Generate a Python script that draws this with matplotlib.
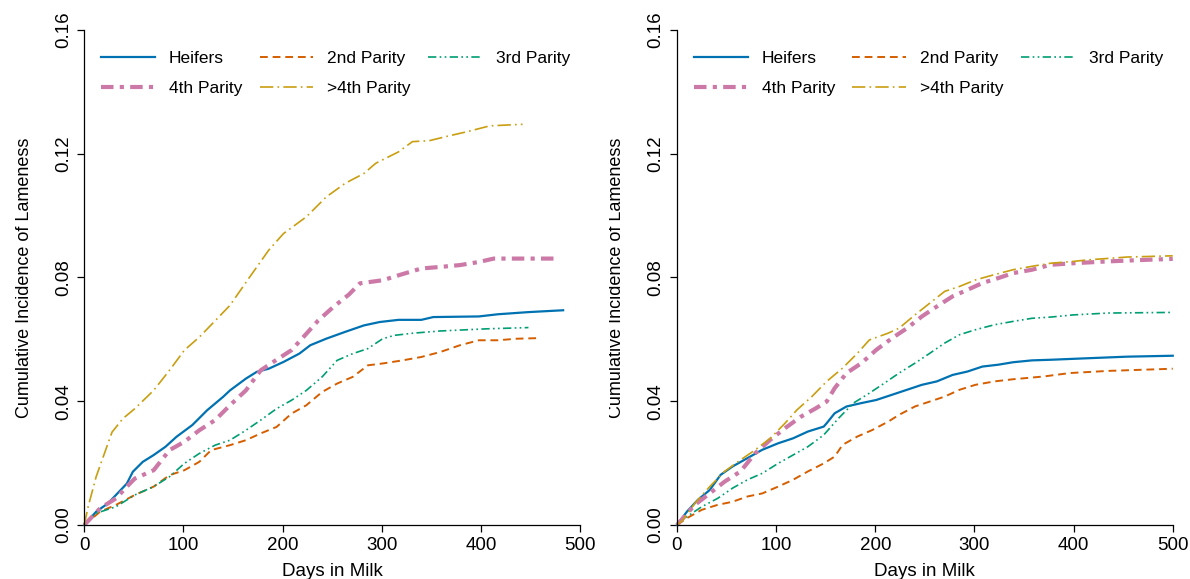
import matplotlib
matplotlib.use("Agg")
import matplotlib.pyplot as plt
from matplotlib.transforms import Bbox
from matplotlib import font_manager

# pick a condensed font if present
names = {f.name for f in font_manager.fontManager.ttflist}
fam = "Liberation Sans Narrow" if "Liberation Sans Narrow" in names else "Liberation Sans"
plt.rcParams["font.family"] = [fam, "DejaVu Sans"]

labels = ["Heifers", "2nd Parity", "3rd Parity", "4th Parity", ">4th Parity"]
colors = ["#0072B2", "#D55E00", "#009E73", "#CC79A7", "#C99E10"]
styles = ["-", (0, (4, 2.5)), (0, (5, 2, 1, 2, 1, 2)), (0, (3, 1.5, 1, 1.5)), (0, (8, 2.5, 1, 2.5))]
widths = [1.6, 1.4, 1.2, 3.0, 1.2]

# left panel
l_heif_x = [0, 12, 24, 32, 43, 49, 59, 70, 82, 93, 109, 124, 140, 147, 163, 174, 186, 201, 217, 228,
            244, 263, 282, 298, 317, 340, 352, 398, 417, 448, 483]
l_heif_y = [0, 0.0043, 0.007, 0.0097, 0.0134, 0.0172, 0.0204, 0.0226, 0.0253, 0.0285, 0.0323, 0.0371,
            0.0414, 0.0435, 0.0473, 0.0495, 0.0505, 0.0527, 0.0554, 0.0581, 0.0602, 0.0624, 0.0645,
            0.0656, 0.0663, 0.0663, 0.0672, 0.0674, 0.0681, 0.0688, 0.0694]
l_p2_x = [0, 16, 32, 51, 70, 86, 101, 116, 128, 147, 163, 178, 194, 209, 224, 240, 255, 271, 286, 301,
          321, 340, 359, 379, 398, 417, 436, 459]
l_p2_y = [0, 0.0043, 0.0065, 0.0097, 0.0124, 0.0161, 0.0177, 0.0204, 0.0242, 0.0258, 0.0274, 0.0296,
          0.0317, 0.036, 0.0387, 0.043, 0.0457, 0.0479, 0.0516, 0.0522, 0.0532, 0.0543, 0.0559, 0.0581,
          0.0597, 0.0597, 0.0602, 0.0604]
l_p3_x = [0, 12, 32, 51, 70, 86, 101, 116, 132, 147, 163, 178, 194, 209, 224, 240, 255, 271, 286, 301,
          313, 332, 359, 406, 448]
l_p3_y = [0, 0.0038, 0.0059, 0.0097, 0.0124, 0.0156, 0.0199, 0.0231, 0.0258, 0.0274, 0.0306, 0.0339,
          0.0376, 0.0403, 0.0435, 0.0479, 0.0532, 0.0554, 0.057, 0.0602, 0.0613, 0.062, 0.0627, 0.0634,
          0.0638]
l_p4_x = [0, 16, 32, 43, 51, 70, 86, 101, 116, 132, 147, 163, 178, 194, 209, 224, 236, 251, 267, 278,
          301, 317, 340, 359, 379, 398, 413, 475]
l_p4_y = [0, 0.0054, 0.0086, 0.0124, 0.015, 0.0177, 0.0242, 0.0269, 0.0306, 0.0339, 0.0387, 0.0435,
          0.05, 0.0534, 0.0565, 0.0618, 0.0661, 0.0704, 0.0745, 0.0781, 0.0791, 0.0807, 0.0829, 0.0834,
          0.084, 0.085, 0.0861, 0.0861]
l_p5_x = [0, 4, 12, 28, 39, 51, 70, 86, 101, 116, 132, 147, 167, 186, 201, 224, 244, 263, 282, 294,
          317, 331, 348, 367, 386, 409, 442]
l_p5_y = [0, 0.006, 0.0156, 0.030, 0.0344, 0.0376, 0.0435, 0.050, 0.0565, 0.0607, 0.066, 0.071, 0.0802,
          0.0888, 0.0942, 0.0996, 0.106, 0.1104, 0.1136, 0.1169, 0.1206, 0.1239, 0.1242, 0.1257, 0.1271,
          0.129, 0.1295]

# right panel
r_heif_x = [0, 10, 21, 33, 44, 56, 71, 86, 102, 117, 132, 148, 151, 159, 171, 186, 201, 217, 232, 247,
            262, 278, 293, 308, 324, 339, 358, 377, 415, 454, 500]
r_heif_y = [0, 0.0043, 0.0081, 0.0113, 0.0162, 0.0189, 0.0216, 0.0243, 0.0264, 0.028, 0.0302, 0.0318,
            0.0329, 0.0361, 0.0383, 0.0394, 0.0404, 0.0421, 0.0437, 0.0453, 0.0464, 0.0485, 0.0496,
            0.0512, 0.0518, 0.0526, 0.0532, 0.0534, 0.0539, 0.0544, 0.0547]
r_p2_x = [0, 10, 25, 41, 56, 71, 86, 102, 117, 132, 148, 159, 167, 182, 197, 213, 224, 240, 255, 270,
          285, 301, 320, 339, 370, 396, 435, 500]
r_p2_y = [0, 0.0022, 0.0049, 0.0065, 0.0075, 0.0092, 0.0102, 0.0124, 0.0146, 0.0173, 0.0199, 0.0221,
          0.0259, 0.0286, 0.0307, 0.0334, 0.0356, 0.0383, 0.0399, 0.0415, 0.0437, 0.0453, 0.0464,
          0.0471, 0.048, 0.0491, 0.0498, 0.0505]
r_p3_x = [0, 10, 25, 41, 56, 71, 86, 102, 117, 132, 148, 163, 178, 194, 209, 224, 240, 255, 270, 285,
          301, 320, 339, 358, 377, 400, 435, 500]
r_p3_y = [0, 0.0027, 0.0059, 0.0086, 0.0119, 0.0146, 0.0167, 0.0199, 0.0226, 0.0253, 0.0291, 0.0345,
          0.0394, 0.0426, 0.0458, 0.0491, 0.0523, 0.0555, 0.0588, 0.0615, 0.0631, 0.0647, 0.0658,
          0.0668, 0.0672, 0.0679, 0.0685, 0.0687]
r_p4_x = [0, 18, 33, 48, 64, 79, 94, 109, 125, 140, 151, 159, 171, 186, 201, 217, 232, 247, 262, 278,
          293, 308, 324, 339, 358, 377, 400, 435, 473, 500]
r_p4_y = [0, 0.0065, 0.0102, 0.014, 0.0173, 0.0232, 0.0275, 0.0313, 0.035, 0.0377, 0.0399, 0.0442,
          0.0491, 0.0523, 0.0566, 0.0604, 0.0636, 0.0674, 0.0706, 0.0739, 0.076, 0.0782, 0.0798,
          0.0814, 0.0825, 0.0841, 0.0846, 0.0852, 0.0857, 0.086]
r_p5_x = [0, 6, 18, 33, 48, 64, 79, 94, 109, 121, 136, 151, 167, 182, 194, 213, 224, 240, 255, 270,
          285, 301, 320, 339, 358, 377, 400, 415, 454, 500]
r_p5_y = [0, 0.0016, 0.007, 0.0124, 0.0173, 0.021, 0.0243, 0.028, 0.0329, 0.0372, 0.0415, 0.0464,
          0.0507, 0.0555, 0.0598, 0.062, 0.0636, 0.0679, 0.0717, 0.0755, 0.0771, 0.0792, 0.0809,
          0.0825, 0.0836, 0.0846, 0.0852, 0.0857, 0.0866, 0.087]

left_data = [(l_heif_x, l_heif_y), (l_p2_x, l_p2_y), (l_p3_x, l_p3_y), (l_p4_x, l_p4_y), (l_p5_x, l_p5_y)]
right_data = [(r_heif_x, r_heif_y), (r_p2_x, r_p2_y), (r_p3_x, r_p3_y), (r_p4_x, r_p4_y), (r_p5_x, r_p5_y)]

fig = plt.figure(figsize=(11.9, 5.79), dpi=100)
ax1 = fig.add_axes([0.0708, 0.0933, 0.4166, 0.855])
ax2 = fig.add_axes([0.5689, 0.0933, 0.4166, 0.855])

for ax, data in [(ax1, left_data), (ax2, right_data)]:
    lines = []
    for (x, y), lab, c, ls, lw in zip(data, labels, colors, styles, widths):
        ln, = ax.plot(x, y, color=c, linestyle=ls, linewidth=lw, label=lab, clip_on=False)
        lines.append(ln)
    ax.set_xlim(0, 500)
    ax.set_ylim(0, 0.16)
    ax.set_xticks([0, 100, 200, 300, 400, 500])
    ax.set_yticks([0, 0.04, 0.08, 0.12, 0.16])
    ax.set_yticklabels(["0.00", "0.04", "0.08", "0.12", "0.16"], rotation=90, va="center")
    ax.tick_params(direction="out", length=5, width=0.9, labelsize=13.5, pad=4)
    for s in ["top", "right"]:
        ax.spines[s].set_visible(False)
    for s in ["left", "bottom"]:
        ax.spines[s].set_linewidth(0.9)
    ax.set_xlabel("Days in Milk", fontsize=13.5, labelpad=6)
    # legend is filled row by row in the original
    order = [0, 3, 1, 4, 2]
    ax.legend([lines[i] for i in order], [labels[i] for i in order], ncol=3,
              loc="upper left", bbox_to_anchor=(0.02, 0.972), frameon=False,
              fontsize=12.5, handlelength=3.1, handletextpad=0.8, columnspacing=1.0,
              labelspacing=0.85, borderaxespad=0)

ax1.set_ylabel("Cumulative Incidence of Lameness", fontsize=13, labelpad=16)
yl = ax2.set_ylabel("Cumulative Incidence of Lameness", fontsize=13, labelpad=16)

# the right y label is cut at its left edge in the original
yl.set_clip_box(Bbox.from_extents(609, 0, 700, 579))
yl.set_clip_on(True)

fig.savefig("out.png", dpi=100)
